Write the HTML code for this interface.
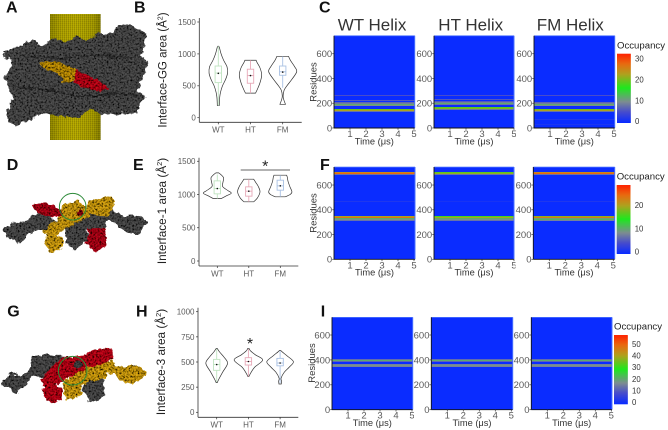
<!DOCTYPE html>
<html lang="en">
<head>
<meta charset="utf-8">
<title>Interface area and occupancy figure</title>
<style>
html,body{margin:0;padding:0;background:#fff;}
svg{display:block;font-family:"Liberation Sans",sans-serif;filter:blur(.25px);}
</style>
</head>
<body>
<svg id="figure" xmlns="http://www.w3.org/2000/svg" width="668" height="430" viewBox="0 0 668 430">
<defs>
<filter id="lumpy" x="-10%" y="-10%" width="120%" height="120%">
<feTurbulence type="fractalNoise" baseFrequency="0.16" numOctaves="3" seed="5" result="n"/>
<feDisplacementMap in="SourceGraphic" in2="n" scale="7" xChannelSelector="R" yChannelSelector="G" result="d"/>
<feTurbulence type="fractalNoise" baseFrequency="0.55" numOctaves="2" seed="8" result="s"/>
<feColorMatrix in="s" type="matrix" values="0 0 0 0 0  0 0 0 0 0  0 0 0 0 0  2.4 0 0 0 -0.85" result="dark"/>
<feComposite in="dark" in2="d" operator="in" result="speck"/>
<feMerge><feMergeNode in="d"/><feMergeNode in="speck"/></feMerge>
</filter>
<linearGradient id="cyl" x1="0" x2="1" y1="0" y2="0">
<stop offset="0" stop-color="#857c00"/><stop offset=".2" stop-color="#a89b00"/><stop offset=".5" stop-color="#b3a600"/><stop offset=".85" stop-color="#9f9400"/><stop offset="1" stop-color="#766f00"/>
</linearGradient>
<pattern id="hatch" width="2" height="2" patternUnits="userSpaceOnUse">
<rect width="1" height="2" fill="#5f5900" opacity=".35"/>
<rect width="2" height="1" fill="#e6d900" opacity=".15"/>
</pattern>
</defs>
<rect width="668" height="430" fill="#fff"/>

<g>
<rect x="50" y="14" width="50.6" height="126" fill="url(#cyl)"/>
<rect x="50" y="14" width="50.6" height="126" fill="url(#hatch)"/>
</g>
<g filter="url(#lumpy)">
<g transform="scale(.3333)" stroke-linejoin="round">
<polygon fill="#505050" stroke="#505050" stroke-width="10" points="14,160 60,138 100,125 130,145 160,118 200,133 230,113 260,133 300,103 345,108 360,80 400,80 436,110 416,170 438,190 406,280 430,290 406,336 340,336 310,341 270,318 240,346 190,346 150,336 100,346 50,375 20,345 43,300 20,230 43,190"/>
<polyline fill="none" stroke="#333" stroke-width="5" points="60,170 180,175 300,165 400,175"/>
<polyline fill="none" stroke="#333" stroke-width="5" points="40,260 150,270 230,290 340,280 410,285"/>
<polygon fill="#c9960f" stroke="#c9960f" stroke-width="6" points="122,190 170,187 225,207 225,238 195,248 175,215 130,200"/>
<polygon fill="#c5101c" stroke="#c5101c" stroke-width="6" points="232,212 260,227 328,265 290,273 240,258 224,240"/>
</g>
</g>

<g filter="url(#lumpy)">
<g transform="translate(0,145) scale(.3333)" stroke-linejoin="round" stroke-width="12">
<polygon fill="#505050" stroke="#505050" points="16,255 45,238 70,245 100,215 125,200 170,235 130,250 100,250 60,290 24,272"/>
<polygon fill="#505050" stroke="#505050" points="335,200 370,220 410,215 438,232 408,265 370,250 330,220"/>
<polygon fill="#b8101c" stroke="#b8101c" points="104,182 130,176 170,194 200,200 175,212 120,202"/>
<polygon fill="#b8101c" stroke="#b8101c" points="272,245 308,250 316,298 285,315 262,292"/>
<polygon fill="#505050" stroke="#505050" points="204,245 260,218 336,205 310,240 250,250 258,282 225,310 204,288"/>
<polygon fill="#d9a512" stroke="#d9a512" points="134,255 190,215 192,183 240,173 258,200 272,173 330,160 340,170 322,206 270,205 190,250 160,266 138,262"/>
<polygon fill="#d9a512" stroke="#d9a512" points="150,262 186,285 186,306 160,315 140,300"/>
<circle cx="240" cy="205" r="9" fill="#8a0a14"/>
</g>
</g>
<circle cx="72.7" cy="206.7" r="13.3" fill="none" stroke="#2e8b3a" stroke-width="1"/>

<g filter="url(#lumpy)">
<g transform="translate(0,285) scale(.3333)" stroke-linejoin="round" stroke-width="12">
<polygon fill="#505050" stroke="#505050" points="14,285 40,270 60,280 95,253 102,220 135,212 195,220 172,250 130,272 100,265 50,320 16,298"/>
<polygon fill="#505050" stroke="#505050" points="262,270 305,285 305,335 270,345 256,318"/>
<polygon fill="#c5101c" stroke="#c5101c" points="130,285 185,224 250,218 300,194 332,198 332,222 260,248 210,272 160,300 134,298"/>
<polygon fill="#c5101c" stroke="#c5101c" points="140,296 180,315 180,340 150,345 136,328"/>
<polygon fill="#d9a512" stroke="#d9a512" points="210,288 260,253 340,235 315,268 280,282 240,292 218,298"/>
<polygon fill="#d9a512" stroke="#d9a512" points="328,238 365,254 400,245 430,265 395,295 360,276 332,258"/>
<polygon fill="#d9a512" stroke="#d9a512" points="200,292 240,305 240,326 210,340 196,322"/>
<circle cx="235" cy="240" r="11" fill="#444"/>
</g>
</g>
<circle cx="72.7" cy="370.7" r="14.3" fill="none" stroke="#2e8b3a" stroke-width="1"/>

<g id="charts"></g>
</svg>

<script>
// ---------- violin data ----------
const categories = ['WT', 'HT', 'FM'];
const categoryColors = ['#bfe3c0', '#e7a9b8', '#a9c1e3'];

const ggTicks = [0, 500, 1000, 1500];
const ggValuesWT = [190, 250, 320, 400, 500, 600, 700, 800, 900, 1000, 1100, 1120];
const ggDensityWT = [.07, .08, .1, .16, .3, .52, .66, .62, .38, .2, .08, .03];
const ggValuesHT = [385, 450, 550, 670, 780, 860, 900];
const ggDensityHT = [.36, .5, .68, .8, .68, .48, .4];
const ggValuesFM = [210, 280, 340, 430, 500, 600, 720, 800, 900, 960];
const ggDensityFM = [.2, .08, .03, .1, .3, .65, 1, .85, .55, .42];
const ggBoxWT = [190, 550, 700, 810, 1120, 695];
const ggBoxHT = [385, 540, 660, 760, 900, 660];
const ggBoxFM = [470, 665, 720, 810, 960, 715];

const if1Ticks = [0, 500, 1000, 1500];
const if1ValuesWT = [940, 980, 1020, 1060, 1120, 1180, 1250, 1300, 1325];
const if1DensityWT = [.3, .65, 1, .75, .38, .4, .45, .25, .1];
const if1ValuesHT = [890, 950, 1040, 1120, 1180, 1230];
const if1DensityHT = [.35, .62, .8, .68, .5, .35];
const if1ValuesFM = [965, 1000, 1040, 1120, 1200, 1260, 1290];
const if1DensityFM = [.35, .7, .83, .68, .55, .5, .45];
const if1BoxWT = [940, 1010, 1090, 1205, 1300, 1090];
const if1BoxHT = [890, 975, 1050, 1115, 1230, 1050];
const if1BoxFM = [965, 1065, 1130, 1215, 1290, 1130];

const if3Ticks = [0, 250, 500, 750, 1000];
const if3ValuesWT = [295, 330, 400, 487, 550, 600, 636];
const if3DensityWT = [.04, .15, .42, .76, .5, .2, .03];
const if3ValuesHT = [355, 400, 450, 520, 570, 610, 636];
const if3DensityHT = [.03, .2, .45, 1, .5, .15, .04];
const if3ValuesFM = [281, 310, 340, 400, 450, 503, 560, 600, 616];
const if3DensityFM = [.08, .1, .07, .3, .65, .93, .5, .15, .04];
const if3BoxWT = [300, 417, 475, 526, 630, 475];
const if3BoxHT = [355, 470, 505, 543, 630, 505];
const if3BoxFM = [290, 462, 490, 536, 610, 490];

// ---------- heatmap data ----------
const timeTicks = [1, 2, 3, 4, 5];
const residueTicks = [0, 200, 400, 600];

const cBandsWT = [262, 222, 210, 194, 186, 178, 153, 145, 137];
const cOccWT = [5, 6, 7, 9, 12, 10, 20, 23, 8];
const cBandsHT = [261, 232, 212, 202, 194, 186, 167, 159, 151];
const cOccHT = [5, 6, 6, 9, 12, 8, 19, 21, 8];
const cBandsFM = [262, 210, 194, 186, 178, 153, 145, 137, 65, 32];
const cOccFM = [5, 7, 9, 12, 10, 20, 23, 8, 2, 1.5];

const fBandsWT = [705, 697, 689, 465, 342, 334, 326, 318, 310];
const fOccWT = [22, 25, 7, 1.5, 20, 24, 11, 9, 7];
const fBandsHT = [705, 697, 689, 465, 342, 334, 326, 318, 310];
const fOccHT = [17, 19, 7, 1, 16, 20, 11, 9, 7];
const fBandsFM = [705, 697, 689, 465, 342, 334, 326, 318, 310];
const fOccFM = [22, 25, 7, 1.5, 19, 23, 10, 11, 8];

const iBandsWT = [407, 399, 391, 366, 358, 350];
const iOccWT = [13, 21, 12, 16, 18, 16];
const iBandsHT = [407, 399, 391, 366, 358, 350];
const iOccHT = [13, 21, 12, 16, 18, 16];
const iBandsFM = [407, 399, 391, 366, 358, 350];
const iOccFM = [13, 21, 12, 16, 18, 16];

const cLegendTicks = [0, 10, 20, 30];
const fLegendTicks = [0, 10, 20];
const iLegendTicks = [0, 10, 20, 30, 40, 50];

// ---------- layout (not data) ----------
const NS = 'http://www.w3.org/2000/svg';
const root = document.getElementById('charts');
const BIN = 8;
const colorStops = [[0, [10, 44, 255]], [.15, [70, 75, 205]], [.3, [125, 140, 145]], [.5, [30, 232, 30]], [.7, [176, 160, 30]], [.85, [232, 106, 16]], [1, [255, 32, 0]]];

function make(tag, name, parent, attrs, text) {
  const e = document.createElementNS(NS, tag);
  
  
  for (const k in attrs) e.setAttribute(k, attrs[k]);
  if (text !== undefined) e.textContent = text;
  (parent || root).appendChild(e);
  return e;
}
function colormap(t) {
  t = Math.max(0, Math.min(1, t));
  for (let i = 1; i < colorStops.length; i++) {
    if (t <= colorStops[i][0]) {
      const a = colorStops[i - 1], b = colorStops[i];
      const f = (t - a[0]) / (b[0] - a[0]);
      const c = a[1].map((v, j) => Math.round(v + (b[1][j] - v) * f));
      return 'rgb(' + c.join(',') + ')';
    }
  }
  return 'rgb(255,32,0)';
}
function smooth(pts) {
  let d = 'M' + pts[0][0].toFixed(2) + ' ' + pts[0][1].toFixed(2);
  for (let i = 0; i < pts.length - 1; i++) {
    const p0 = pts[Math.max(0, i - 1)], p1 = pts[i], p2 = pts[i + 1], p3 = pts[Math.min(pts.length - 1, i + 2)];
    const c1 = [p1[0] + (p2[0] - p0[0]) / 6, p1[1] + (p2[1] - p0[1]) / 6];
    const c2 = [p2[0] - (p3[0] - p1[0]) / 6, p2[1] - (p3[1] - p1[1]) / 6];
    d += 'C' + c1[0].toFixed(2) + ' ' + c1[1].toFixed(2) + ' ' + c2[0].toFixed(2) + ' ' + c2[1].toFixed(2) + ' ' + p2[0].toFixed(2) + ' ' + p2[1].toFixed(2);
  }
  return d;
}

function violinPanel(cfg) {
  const g = make('g', cfg.name, root, {});
  const yScale = v => cfg.y0 - v * cfg.k;
  const xScale = i => cfg.catX + i * cfg.catStep;
  make('line', 'y-axis', g, {x1: cfg.axisX, x2: cfg.axisX, y1: cfg.axisTop, y2: cfg.axisBottom, stroke: '#333', 'stroke-width': .8});
  make('line', 'x-axis', g, {x1: cfg.axisX, x2: cfg.axisRight, y1: cfg.axisBottom, y2: cfg.axisBottom, stroke: '#333', 'stroke-width': .8});
  cfg.ticks.forEach(t => {
    make('line', 'y-tick', g, {x1: cfg.axisX - 2, x2: cfg.axisX, y1: yScale(t), y2: yScale(t), stroke: '#333', 'stroke-width': .7});
    make('text', 'y-tick-label', g, {x: cfg.axisX - 3.5, y: yScale(t) + 2.9, 'text-anchor': 'end', 'font-size': 8, fill: '#5a5a5a'}, t);
  });
  categories.forEach((c, i) => {
    const x = xScale(i);
    make('line', 'x-tick', g, {x1: x, x2: x, y1: cfg.axisBottom, y2: cfg.axisBottom + 2, stroke: '#333', 'stroke-width': .7});
    make('text', 'x-tick-label', g, {x: x, y: cfg.axisBottom + 10.4, 'text-anchor': 'middle', 'font-size': 8, fill: '#5a5a5a'}, c);
    const vals = cfg.values[i], dens = cfg.density[i];
    const right = vals.map((v, j) => [x + dens[j] * cfg.maxHalf, yScale(v)]);
    const left = vals.map((v, j) => [x - dens[j] * cfg.maxHalf, yScale(v)]).reverse();
    const dR = smooth(right);
    const dL = smooth(left).replace(/^M/, 'L');
    make('path', 'violin-' + c.toLowerCase(), g, {d: dR + dL + 'Z', fill: '#fff', stroke: '#333', 'stroke-width': .7});
    const b = cfg.boxes[i];
    make('line', 'whisker-' + c.toLowerCase(), g, {x1: x, x2: x, y1: yScale(b[0]), y2: yScale(b[4]), stroke: categoryColors[i], 'stroke-width': .9});
    make('rect', 'box-' + c.toLowerCase(), g, {x: x - 3.2, y: yScale(b[3]), width: 6.4, height: yScale(b[1]) - yScale(b[3]), fill: '#fff', stroke: categoryColors[i], 'stroke-width': .9});
    make('line', 'median-' + c.toLowerCase(), g, {x1: x - 3.2, x2: x + 3.2, y1: yScale(b[2]), y2: yScale(b[2]), stroke: categoryColors[i], 'stroke-width': .9});
    make('circle', 'mean-' + c.toLowerCase(), g, {cx: x, cy: yScale(b[5]), r: .8, fill: '#111'});
  });
  const title = make('text', 'y-axis-title', g, {transform: 'translate(' + cfg.titleX + ',' + cfg.titleY + ') rotate(-90)', 'text-anchor': 'middle', 'font-size': cfg.titleSize, fill: '#222'});
  make('tspan', 'title-main', title, {}, cfg.title + ' (Å');
  make('tspan', 'title-superscript', title, {dy: -4, 'font-size': cfg.titleSize * .62}, '2');
  make('tspan', 'title-close', title, {dy: 4}, ')');
}

function heatPanel(cfg, bands, occ, title) {
  const g = make('g', cfg.name, root, {});
  const yScale = v => cfg.y0 - v * cfg.k;
  const xScale = t => cfg.x0 + t * cfg.tk;
  make('rect', 'heatmap-background', g, {x: cfg.x0, y: cfg.top, width: cfg.x1 - cfg.x0, height: cfg.y0 - cfg.top, fill: colormap(0)});
  bands.forEach((r, i) => {
    // snap each residue row to a whole pixel so its colour stays pure
    make('rect', 'heatmap-band', g, {x: cfg.x0, y: Math.round(yScale(r) - .5), width: cfg.x1 - cfg.x0, height: Math.max(1, Math.round(BIN * cfg.k)), fill: colormap(occ[i] / cfg.max)});
  });
  make('rect', 'heatmap-edge', g, {x: cfg.x1 - .5, y: cfg.top, width: 1, height: cfg.y0 - cfg.top, fill: '#4a70ff'});
  make('rect', 'heatmap-top-edge', g, {x: cfg.x0, y: cfg.top - .3, width: cfg.x1 - cfg.x0, height: .8, fill: '#4a70ff'});
  make('line', 'y-axis', g, {x1: cfg.x0, x2: cfg.x0, y1: cfg.top, y2: cfg.y0, stroke: '#111', 'stroke-width': .9});
  make('line', 'x-axis', g, {x1: cfg.x0, x2: cfg.x1, y1: cfg.y0, y2: cfg.y0, stroke: '#111', 'stroke-width': .9});
  residueTicks.forEach(t => {
    make('line', 'y-tick', g, {x1: cfg.x0 - 1.8, x2: cfg.x0, y1: yScale(t), y2: yScale(t), stroke: '#333', 'stroke-width': .7});
    make('text', 'y-tick-label', g, {x: cfg.x0 - 1.8, y: yScale(t) + 3.4, 'text-anchor': 'end', 'font-size': 9.5, fill: '#5a5a5a'}, t);
  });
  const xg = make('g', 'x-tick-labels', g, {});
  if (cfg.clipId) xg.setAttribute('clip-path', 'url(#' + cfg.clipId + ')');
  timeTicks.forEach(t => {
    make('line', 'x-tick', g, {x1: xScale(t), x2: xScale(t), y1: cfg.y0, y2: cfg.y0 + 1.8, stroke: '#333', 'stroke-width': .7});
    make('text', 'x-tick-label', xg, {x: xScale(t), y: cfg.y0 + 9, 'text-anchor': 'middle', 'font-size': 9.5, fill: '#5a5a5a'}, t);
  });
  make('text', 'x-axis-title', g, {x: (cfg.x0 + cfg.x1) / 2, y: cfg.y0 + 16.4, 'text-anchor': 'middle', 'font-size': 9.3, fill: '#333'}, 'Time (μs)');
  if (title) make('text', 'panel-title', g, {x: cfg.titleX, y: 30.7, 'font-size': 17, fill: '#333'}, title);
}

function legend(cfg, ticks) {
  const g = make('g', cfg.name, root, {});
  const yScale = v => cfg.bottom - (v - cfg.min) / (cfg.max - cfg.min) * (cfg.bottom - cfg.top);
  make('text', 'legend-title', g, {x: cfg.x, y: cfg.titleY, 'font-size': 9.6, fill: '#222'}, 'Occupancy');
  const n = 69;
  for (let i = 0; i < n; i++) {
    const f0 = i / n;
    make('rect', 'colorbar-step', g, {x: cfg.x, y: cfg.bottom - (i + 1) * (cfg.bottom - cfg.top) / n, width: 13.8, height: (cfg.bottom - cfg.top) / n + .3, fill: colormap(f0)});
  }
  ticks.forEach(t => {
    make('text', 'colorbar-label', g, {x: cfg.x + 18, y: yScale(t) + 2.8, 'font-size': 7.8, fill: '#333'}, t);
  });
}

function clip(id, x, y, w, h) {
  const cp = make('clipPath', 'clip-region', root, {id: id});
  make('rect', 'clip-rect', cp, {x: x, y: y, width: w, height: h});
}

// ---------- violins ----------
violinPanel({name: 'violin-panel-b', y0: 117.7, k: .0638, axisX: 199.3, axisTop: 18, axisBottom: 122.3, axisRight: 301.7, catX: 218.3, catStep: 32.2, maxHalf: 14, ticks: ggTicks,
  values: [ggValuesWT, ggValuesHT, ggValuesFM], density: [ggDensityWT, ggDensityHT, ggDensityFM], boxes: [ggBoxWT, ggBoxHT, ggBoxFM],
  title: 'Interface-GG area', titleX: 166.5, titleY: 70, titleSize: 11.5});
violinPanel({name: 'violin-panel-e', y0: 261, k: .0665, axisX: 199, axisTop: 157.7, axisBottom: 266, axisRight: 298.3, catX: 217.3, catStep: 31.5, maxHalf: 14, ticks: if1Ticks,
  values: [if1ValuesWT, if1ValuesHT, if1ValuesFM], density: [if1DensityWT, if1DensityHT, if1DensityFM], boxes: [if1BoxWT, if1BoxHT, if1BoxFM],
  title: 'Interface-1 area', titleX: 166, titleY: 211, titleSize: 11.8});
violinPanel({name: 'violin-panel-h', y0: 412.3, k: .1006, axisX: 198, axisTop: 307.7, axisBottom: 417.3, axisRight: 298.3, catX: 216.7, catStep: 31.7, maxHalf: 14.3, ticks: if3Ticks,
  values: [if3ValuesWT, if3ValuesHT, if3ValuesFM], density: [if3DensityWT, if3DensityHT, if3DensityFM], boxes: [if3BoxWT, if3BoxHT, if3BoxFM],
  title: 'Interface-3 area', titleX: 165, titleY: 362, titleSize: 11.8});

make('line', 'significance-bracket', root, {x1: 240.7, x2: 290, y1: 170, y2: 170, stroke: '#333', 'stroke-width': .8});
make('text', 'significance-star-e', root, {x: 265.3, y: 171.5, 'text-anchor': 'middle', 'font-size': 16, fill: '#222'}, '*');
make('text', 'significance-star-h', root, {x: 250, y: 349, 'text-anchor': 'middle', 'font-size': 16, fill: '#222'}, '*');

// ---------- heatmaps ----------
clip('clipC1', 300, 125, 116.5, 25);
clip('clipC2', 420, 125, 96, 25);
clip('clipF1', 300, 255, 116.5, 25);
clip('clipF2', 420, 255, 95.5, 25);
clip('clipI1', 300, 405, 114, 25);
clip('clipI2', 420, 405, 94, 25);

const cRow = {y0: 128, k: .1238, top: 35.7, max: 33};
const fRow = {y0: 259.3, k: .1238, top: 167, max: 29};
const iRow = {y0: 409.7, k: .1245, top: 317.3, max: 58};

heatPanel(Object.assign({name: 'heatmap-c-wt', x0: 334, x1: 414.7, tk: 16, titleX: 337.7, clipId: 'clipC1'}, cRow), cBandsWT, cOccWT, 'WT Helix');
heatPanel(Object.assign({name: 'heatmap-c-ht', x0: 434, x1: 514, tk: 16, titleX: 438.3, clipId: 'clipC2'}, cRow), cBandsHT, cOccHT, 'HT Helix');
heatPanel(Object.assign({name: 'heatmap-c-fm', x0: 534, x1: 614.7, tk: 16, titleX: 536.7}, cRow), cBandsFM, cOccFM, 'FM Helix');

heatPanel(Object.assign({name: 'heatmap-f-wt', x0: 334, x1: 415, tk: 16, clipId: 'clipF1'}, fRow), fBandsWT, fOccWT);
heatPanel(Object.assign({name: 'heatmap-f-ht', x0: 434, x1: 514, tk: 16, clipId: 'clipF2'}, fRow), fBandsHT, fOccHT);
heatPanel(Object.assign({name: 'heatmap-f-fm', x0: 533.3, x1: 614.7, tk: 16}, fRow), fBandsFM, fOccFM);

heatPanel(Object.assign({name: 'heatmap-i-wt', x0: 332, x1: 412.7, tk: 16, clipId: 'clipI1'}, iRow), iBandsWT, iOccWT);
heatPanel(Object.assign({name: 'heatmap-i-ht', x0: 431.3, x1: 512.7, tk: 16, clipId: 'clipI2'}, iRow), iBandsHT, iOccHT);
heatPanel(Object.assign({name: 'heatmap-i-fm', x0: 531.3, x1: 612, tk: 16}, iRow), iBandsFM, iOccFM);

legend({name: 'legend-c', x: 617, titleY: 48.3, top: 53.7, bottom: 122.7, min: -.67, max: 32.5}, cLegendTicks);
legend({name: 'legend-f', x: 616.7, titleY: 179.3, top: 185, bottom: 253.7, min: -.86, max: 28.8}, fLegendTicks);
legend({name: 'legend-i', x: 614, titleY: 329.3, top: 335, bottom: 404, min: -1.4, max: 57.7}, iLegendTicks);

// ---------- residue axis titles ----------
make('text', 'residues-title-c', root, {transform: 'translate(316.5,82) rotate(-90)', 'text-anchor': 'middle', 'font-size': 9.5, fill: '#333'}, 'Residues');
make('text', 'residues-title-f', root, {transform: 'translate(316.5,213) rotate(-90)', 'text-anchor': 'middle', 'font-size': 9.5, fill: '#333'}, 'Residues');
make('text', 'residues-title-i', root, {transform: 'translate(315,363) rotate(-90)', 'text-anchor': 'middle', 'font-size': 9.5, fill: '#333'}, 'Residues');

// ---------- panel letters ----------
const panelLetters = ['A', 'B', 'C', 'D', 'E', 'F', 'G', 'H', 'I'];
const letterX = [6, 134, 319, 6.7, 133, 320, 7.3, 136, 320.7];
const letterY = [12.7, 12.7, 12.7, 170, 170, 170, 316.7, 316.7, 316.7];
panelLetters.forEach((l, i) => {
  make('text', 'panel-label-' + l.toLowerCase(), root, {x: letterX[i], y: letterY[i], 'font-size': 16, 'font-weight': 'bold', fill: '#111'}, l);
});
</script>
</body>
</html>
